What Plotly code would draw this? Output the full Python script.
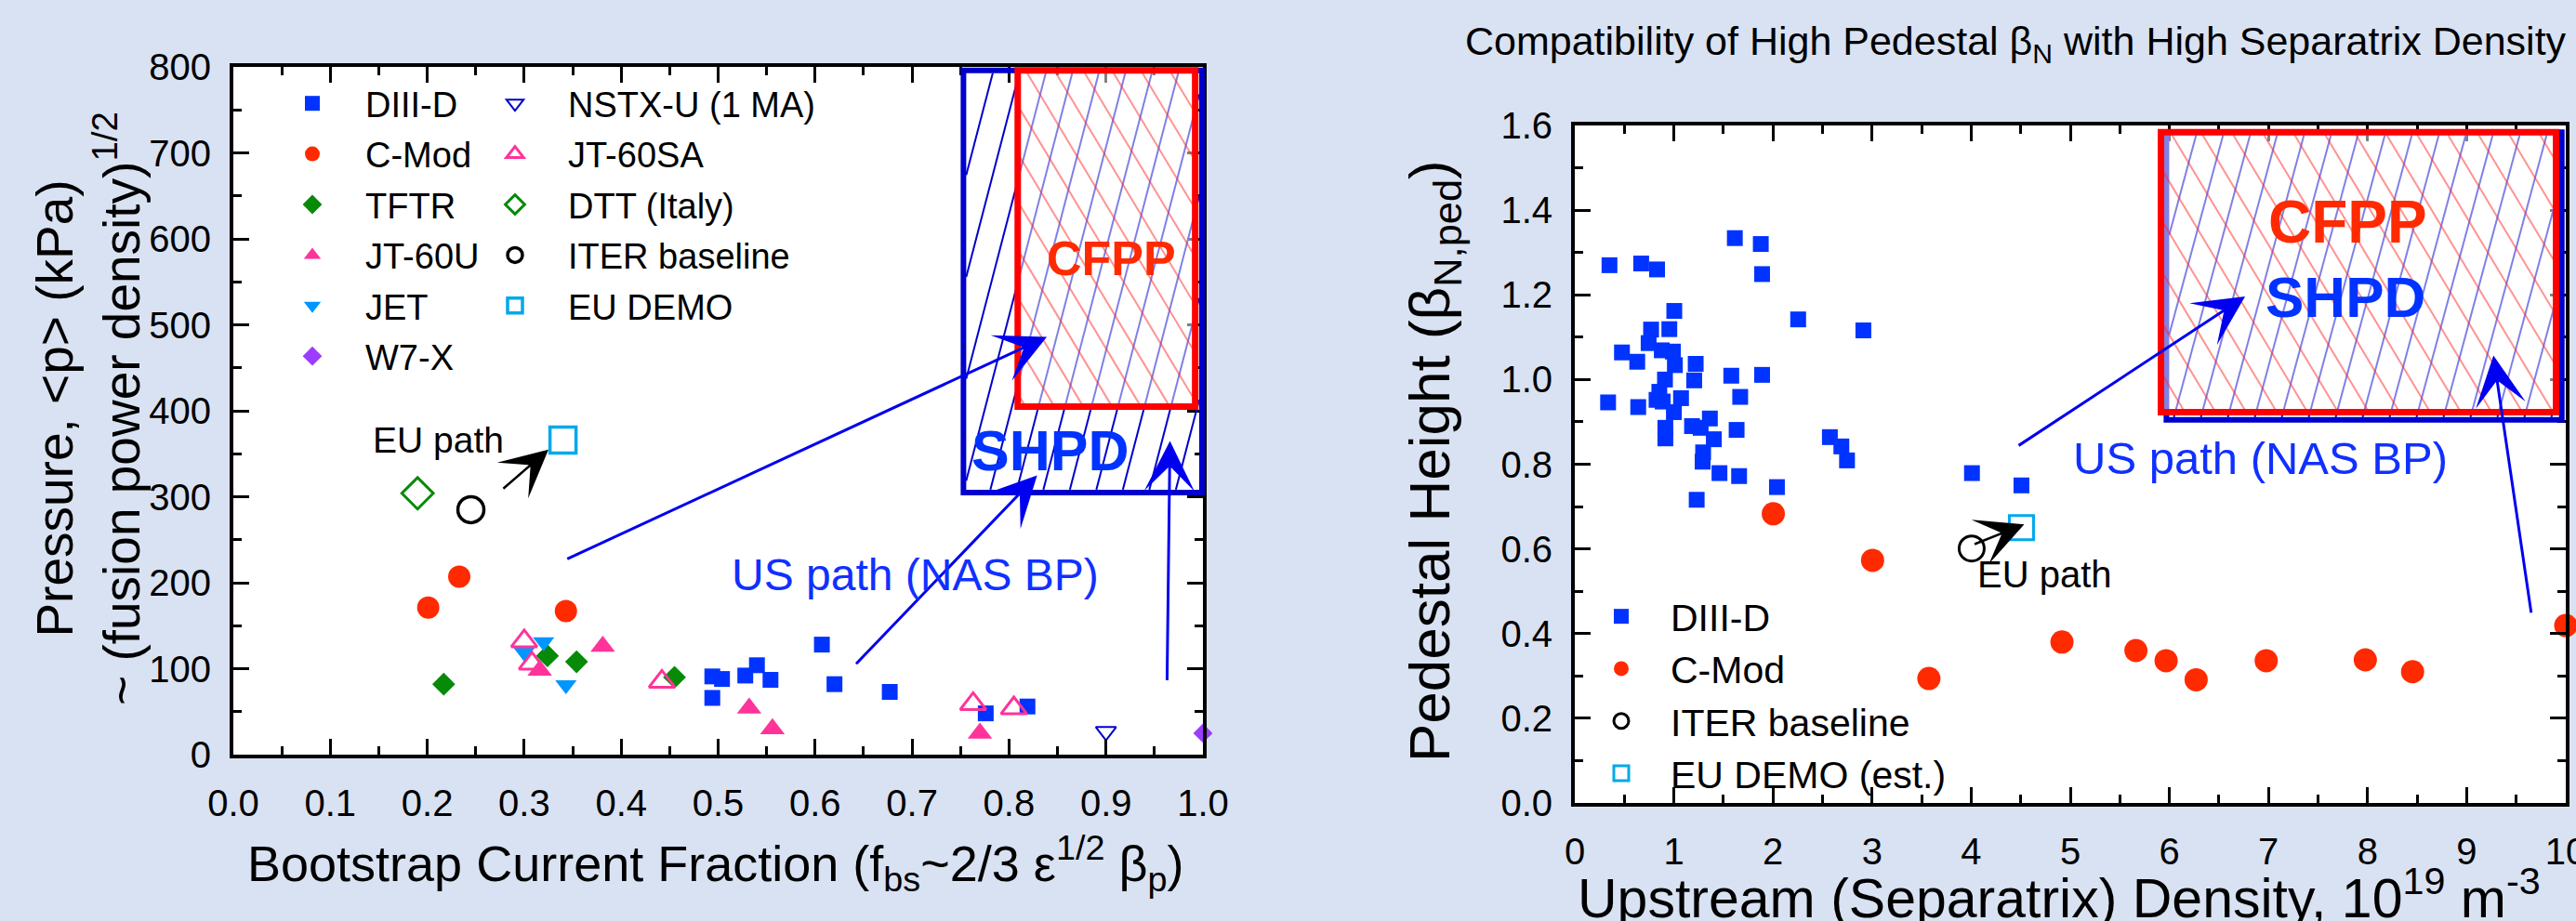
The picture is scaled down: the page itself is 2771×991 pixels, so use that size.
import plotly.graph_objects as go

W, H = 2771, 991

# ---------------- data: left panel ----------------
diiid_fbs = [0.494, 0.504, 0.494, 0.528, 0.540, 0.554, 0.607, 0.620, 0.677, 0.776, 0.819]
diiid_p = [91, 88, 66, 92, 104, 87, 128, 82, 73, 48, 56]
cmod_fbs = [0.201, 0.233, 0.343]
cmod_p = [171, 207, 167]
tftr_fbs = [0.217, 0.324, 0.354, 0.455]
tftr_p = [82, 115, 108, 90]
jt60u_fbs = [0.316, 0.381, 0.532, 0.556, 0.770]
jt60u_p = [98, 126, 54, 30, 25]
jet_fbs = [0.300, 0.320, 0.343]
jet_p = [119, 131, 81]
w7x_fbs = [1.0]
w7x_p = [25]
nstxu_fbs = [0.90]
nstxu_p = [27]
jt60sa_fbs = [0.300, 0.308, 0.442, 0.763, 0.805]
jt60sa_p = [132, 106, 85, 59, 54]
dtt_fbs = [0.19]
dtt_p = [304]
iter_fbs = [0.245]
iter_p = [285]
eudemo_fbs = [0.34]
eudemo_p = [366]

# ---------------- data: right panel ----------------
r_diiid_n = [0.35, 0.67, 0.83, 1.615, 1.877, 1.89, 1.004, 0.954, 0.77, 0.745, 0.476, 0.63,
             0.878, 0.99, 1.01, 1.22, 1.205, 0.91, 1.579, 1.89, 0.336, 0.64, 0.853, 0.825,
             0.887, 1.072, 1.669, 1.00, 1.183, 1.363, 1.27, 0.914, 0.914, 1.633, 1.403, 1.295,
             1.29, 2.574, 2.69, 2.747, 1.46, 1.658, 2.04, 1.23, 2.254, 2.912, 4.008, 4.507]
r_diiid_b = [1.27, 1.274, 1.26, 1.334, 1.32, 1.249, 1.162, 1.119, 1.118, 1.086, 1.064, 1.042,
             1.069, 1.066, 1.034, 1.037, 0.998, 1.0, 1.009, 1.011, 0.946, 0.935, 0.971, 0.952,
             0.948, 0.956, 0.959, 0.923, 0.890, 0.908, 0.886, 0.886, 0.861, 0.881, 0.859, 0.828,
             0.806, 0.864, 0.842, 0.809, 0.779, 0.772, 0.746, 0.716, 1.142, 1.116, 0.779, 0.75]
r_cmod_n = [2.003, 3.005, 3.573, 4.916, 5.662, 5.967, 6.27, 6.977, 7.977, 8.454, 10.0]
r_cmod_b = [0.683, 0.573, 0.294, 0.38, 0.36, 0.336, 0.291, 0.336, 0.338, 0.310, 0.419]
r_iter_n = [4.005]
r_iter_b = [0.601]
r_eudemo_n = [4.507]
r_eudemo_b = [0.65]

# tick values
left_xticks = [i / 10 for i in range(11)]
left_yticks = list(range(0, 801, 100))
right_xticks = list(range(0, 11))
right_yticks = [i / 5 for i in range(9)]

# ---------------- styling / geometry ----------------
FONT = "Liberation Sans, Arial, Helvetica, sans-serif"
NARROW = "Liberation Sans Narrow, Arial Narrow, Liberation Sans, sans-serif"
BG = "#d9e2f2"
BLUE = "#0033ff"
RED = "#ff2a00"
PINK = "#ff3399"
GREEN = "#078a07"
ARROW_BLUE = "#0000f0"

LX0, LX1, LYT, LYB = 251, 1294, 72, 812
RX0, RX1, RYT, RYB = 1694, 2760, 135, 864
LXR, LYR = [0, 1.0], [0, 800]
RXR, RYR = [0, 10], [0, 1.6]


def lpx(x, y):
    return (LX0 + (x - LXR[0]) / (LXR[1] - LXR[0]) * (LX1 - LX0),
            LYB - (y - LYR[0]) / (LYR[1] - LYR[0]) * (LYB - LYT))


def rpx(x, y):
    return (RX0 + (x - RXR[0]) / (RXR[1] - RXR[0]) * (RX1 - RX0),
            RYB - (y - RYR[0]) / (RYR[1] - RYR[0]) * (RYB - RYT))


def hatch(x0, y0, x1, y1, k, s, color, width, inset=3):
    """x0,x1 px; y0 top, y1 bottom px. k = dx per unit upward. returns shapes (paper)."""
    xa, xb = x0 + inset, x1 - inset
    u0, u1 = H - (y1 - inset), H - (y0 + inset)
    h = u1 - u0
    shapes = []
    c = xa - abs(k) * h - s
    while c < xb + abs(k) * h + s:
        ua = u0 + (xa - c) / k
        ub = u0 + (xb - c) / k
        lo = max(min(ua, ub), u0)
        hi = min(max(ua, ub), u1)
        if hi > lo + 1:
            p0 = (c + k * (lo - u0), lo)
            p1 = (c + k * (hi - u0), hi)
            shapes.append(dict(type="line", xref="paper", yref="paper",
                               x0=p0[0] / W, y0=p0[1] / H, x1=p1[0] / W, y1=p1[1] / H,
                               line=dict(color=color, width=width), layer="above"))
        c += s
    return shapes


def rect(x0, y0, x1, y1, color, width, fill="rgba(0,0,0,0)"):
    return dict(type="rect", xref="paper", yref="paper",
                x0=x0 / W, x1=x1 / W, y0=1 - y1 / H, y1=1 - y0 / H,
                line=dict(color=color, width=width), fillcolor=fill, layer="above")


def region(pxf, blue_box, red_box, kb, sb, kr, sr):
    bx0, by0 = pxf(blue_box[0], blue_box[3])
    bx1, by1 = pxf(blue_box[1], blue_box[2])
    rx0, ry0 = pxf(red_box[0], red_box[3])
    rx1, ry1 = pxf(red_box[1], red_box[2])
    shapes = []
    shapes += hatch(bx0, by0, bx1, by1, kb, sb, "#0000cc", 2)
    shapes.append(rect(bx0, by0, bx1, by1, "#0000cc", 6))
    shapes.append(dict(type="rect", xref="paper", yref="paper",
                       x0=rx0 / W, x1=rx1 / W, y0=1 - ry1 / H, y1=1 - ry0 / H,
                       line=dict(width=0), fillcolor="rgba(255,255,255,0.5)", layer="above"))
    shapes += hatch(rx0, ry0, rx1, ry1, kr, sr, "rgba(255,40,40,0.5)", 2)
    shapes.append(rect(rx0, ry0, rx1, ry1, "#ff0000", 7))
    return shapes


# boxes (x0, x1, y0, y1) in data units
L_SHPD = (0.753, 0.999, 305, 796)
L_CFPP = (0.809, 0.992, 405, 796)
R_SHPD = (5.97, 9.96, 0.905, 1.584)
R_CFPP = (5.915, 9.902, 0.923, 1.584)

fig = go.Figure()


def sc(x, y, name, symbol, size, color, lw=0, legend="legend", xa="x", ya="y", clip=True):
    mk = dict(symbol=symbol, size=size, color=color)
    if lw:
        mk["line"] = dict(width=lw, color=color)
    else:
        mk["line"] = dict(width=0)
    fig.add_trace(go.Scatter(x=x, y=y, mode="markers", name=name, marker=mk,
                             legend=legend, xaxis=xa, yaxis=ya, cliponaxis=clip,
                             legendgroup=name + legend))


# left panel traces
sc(diiid_fbs, diiid_p, "DIII-D", "square", 17, BLUE)
sc(cmod_fbs, cmod_p, "C-Mod", "circle", 24, RED)
sc(tftr_fbs, tftr_p, "TFTR", "diamond", 19, GREEN)
sc(jt60u_fbs, jt60u_p, "JT-60U", "triangle-up", 23, PINK)
sc(jet_fbs, jet_p, "JET", "triangle-down", 20, "#0096ff")
sc(w7x_fbs, w7x_p, "W7-X", "diamond", 16, "#9b3cff", clip=False)
sc(nstxu_fbs, nstxu_p, "NSTX-U (1 MA)", "triangle-down-open", 19, "#0000cc", lw=2, legend="legend2")
sc(jt60sa_fbs, jt60sa_p, "JT-60SA", "triangle-up-open", 24, PINK, lw=3, legend="legend2")
sc(dtt_fbs, dtt_p, "DTT (Italy)", "diamond-open", 26, GREEN, lw=3, legend="legend2")
sc(iter_fbs, iter_p, "ITER baseline", "circle-open", 28, "black", lw=3.5, legend="legend2")
sc(eudemo_fbs, eudemo_p, "EU DEMO", "square-open", 28, "#00a8ec", lw=3.5, legend="legend2")

# right panel traces
sc(r_diiid_n, r_diiid_b, "DIII-D", "square", 17, BLUE, legend="legend3", xa="x2", ya="y2")
sc(r_cmod_n, r_cmod_b, "C-Mod", "circle", 25, RED, legend="legend3", xa="x2", ya="y2", clip=False)
sc(r_iter_n, r_iter_b, "ITER baseline", "circle-open", 27, "black", lw=3, legend="legend3", xa="x2", ya="y2")
sc(r_eudemo_n, r_eudemo_b, "EU DEMO (est.)", "square-open", 26, "#00a8ec", lw=3, legend="legend3", xa="x2", ya="y2")

axis_common = dict(showline=True, linecolor="black", linewidth=4, mirror="ticks",
                   ticks="inside", ticklen=17, tickwidth=3, tickcolor="black",
                   showgrid=False, zeroline=False, automargin=False,
                   ticklabeloverflow="allow",
                   tickfont=dict(family=FONT, size=40, color="black"))


def minor(d):
    return dict(ticks="inside", ticklen=9, tickwidth=3, tickcolor="black", dtick=d, showgrid=False)


fig.update_layout(
    width=W, height=H, margin=dict(l=0, r=0, t=0, b=0, autoexpand=False),
    paper_bgcolor=BG, plot_bgcolor="white",
    font=dict(family=FONT, color="black"),
    xaxis=dict(**axis_common, domain=[LX0 / W, LX1 / W], range=LXR, anchor="y",
               tickvals=left_xticks, ticktext=[f"{v:.1f}" for v in left_xticks],
               minor=minor(0.05), ticklabelstandoff=14),
    yaxis=dict(**axis_common, domain=[1 - LYB / H, 1 - LYT / H], range=LYR, anchor="x",
               tickvals=left_yticks, minor=minor(50), ticklabelstandoff=12),
    xaxis2=dict(**axis_common, domain=[RX0 / W, RX1 / W], range=RXR, anchor="y2",
                tickvals=right_xticks, minor=minor(0.5), ticklabelstandoff=14),
    yaxis2=dict(**axis_common, domain=[1 - RYB / H, 1 - RYT / H], range=RYR, anchor="x2",
                tickvals=right_yticks, ticktext=[f"{v:.1f}" for v in right_yticks],
                minor=minor(0.1), ticklabelstandoff=12),
    legend=dict(x=279 / W, y=1 - 80 / H, xanchor="left", yanchor="top", bgcolor="rgba(0,0,0,0)",
                font=dict(family=NARROW, size=38, color="black"), itemwidth=104,
                tracegroupgap=2),
    legend2=dict(x=497 / W, y=1 - 80 / H, xanchor="left", yanchor="top", bgcolor="rgba(0,0,0,0)",
                 font=dict(family=NARROW, size=38, color="black"), itemwidth=104,
                 tracegroupgap=2),
    legend3=dict(x=1691 / W, y=1 - 630 / H, xanchor="left", yanchor="top", bgcolor="rgba(0,0,0,0)",
                 font=dict(family=FONT, size=41, color="black"), itemwidth=96,
                 tracegroupgap=0),
)

shapes = []
shapes += region(lpx, L_SHPD, L_CFPP, 0.26, 28.5, -0.6, 31)
shapes += region(rpx, R_SHPD, R_CFPP, 0.27, 29, -0.6, 33)
fig.update_layout(shapes=shapes)

ann = []


def arrow(x, y, ax, ay, color, xr="x", yr="y", width=3, size=3.0):
    ann.append(dict(x=x, y=y, ax=ax, ay=ay, xref=xr, yref=yr, axref=xr, ayref=yr, text="",
                    showarrow=True, arrowhead=3, arrowsize=size, arrowwidth=width,
                    arrowcolor=color, standoff=0, startstandoff=0))


def label(x, y, text, size, color, xr="x", yr="y", bold=False, xanchor="center", family=FONT):
    if bold:
        text = "<b>" + text + "</b>"
    ann.append(dict(x=x, y=y, xref=xr, yref=yr, text=text, showarrow=False, xanchor=xanchor,
                    yanchor="middle", font=dict(family=family, size=size, color=color)))


# left panel arrows and labels
arrow(0.839, 486, 0.343, 227, ARROW_BLUE)
arrow(0.829, 325, 0.641, 104, ARROW_BLUE)
arrow(0.966, 365, 0.963, 85, ARROW_BLUE)
arrow(0.325, 355, 0.277, 308, "black", width=2.5, size=3.4)
label(0.211, 366, "EU path", 39, "black")
label(0.703, 209, "US path (NAS BP)", 48, "#1030ff")
label(0.906, 577, "CFPP", 52, RED, bold=True)
label(0.842, 353, "SHPD", 61, BLUE, bold=True)

# right panel arrows and labels
arrow(6.764, 1.196, 4.465, 0.842, ARROW_BLUE, "x2", "y2")
arrow(9.27, 1.057, 9.653, 0.446, ARROW_BLUE, "x2", "y2")
arrow(4.535, 0.658, 4.02, 0.61, "black", "x2", "y2", width=2.5, size=3.4)
label(4.04, 0.54, "EU path", 40, "black", "x2", "y2", xanchor="left")
label(6.92, 0.814, "US path (NAS BP)", 49, "#1030ff", "x2", "y2")
label(7.8, 1.372, "CFPP", 64, RED, "x2", "y2", bold=True)
label(7.78, 1.194, "SHPD", 62, BLUE, "x2", "y2", bold=True)

# axis titles and panel title
ann.append(dict(x=95 / W, y=1 - 440 / H, xref="paper", yref="paper", showarrow=False,
                textangle=-90, xanchor="center", yanchor="middle",
                text="Pressure, &lt;p&gt; (kPa)<br>~ (fusion power density)<sup>1/2</sup>",
                font=dict(family=FONT, size=55, color="black")))
ann.append(dict(x=770 / W, y=1 - 929 / H, xref="paper", yref="paper", showarrow=False,
                xanchor="center", yanchor="middle",
                text="Bootstrap Current Fraction (f<sub>bs</sub>~2/3 ε<sup>1/2</sup> β<sub>p</sub>)",
                font=dict(family=FONT, size=54, color="black")))
ann.append(dict(x=1542 / W, y=1 - 496 / H, xref="paper", yref="paper", showarrow=False,
                textangle=-90, xanchor="center", yanchor="middle",
                text="Pedestal Height (β<sub>N,ped</sub>)",
                font=dict(family=FONT, size=62, color="black")))
ann.append(dict(x=2215 / W, y=1 - 962 / H, xref="paper", yref="paper", showarrow=False,
                xanchor="center", yanchor="middle",
                text="Upstream (Separatrix) Density, 10<sup>19</sup> m<sup>-3</sup>",
                font=dict(family=FONT, size=59, color="black")))
ann.append(dict(x=2168 / W, y=1 - 47 / H, xref="paper", yref="paper", showarrow=False,
                xanchor="center", yanchor="middle",
                text="Compatibility of High Pedestal β<sub>N</sub> with High Separatrix Density",
                font=dict(family=FONT, size=43, color="black")))

fig.update_layout(annotations=ann)

fig.write_html("out.html", config={"displayModeBar": False},
               post_script="document.body.style.margin='0';document.body.style.overflow='hidden';")
